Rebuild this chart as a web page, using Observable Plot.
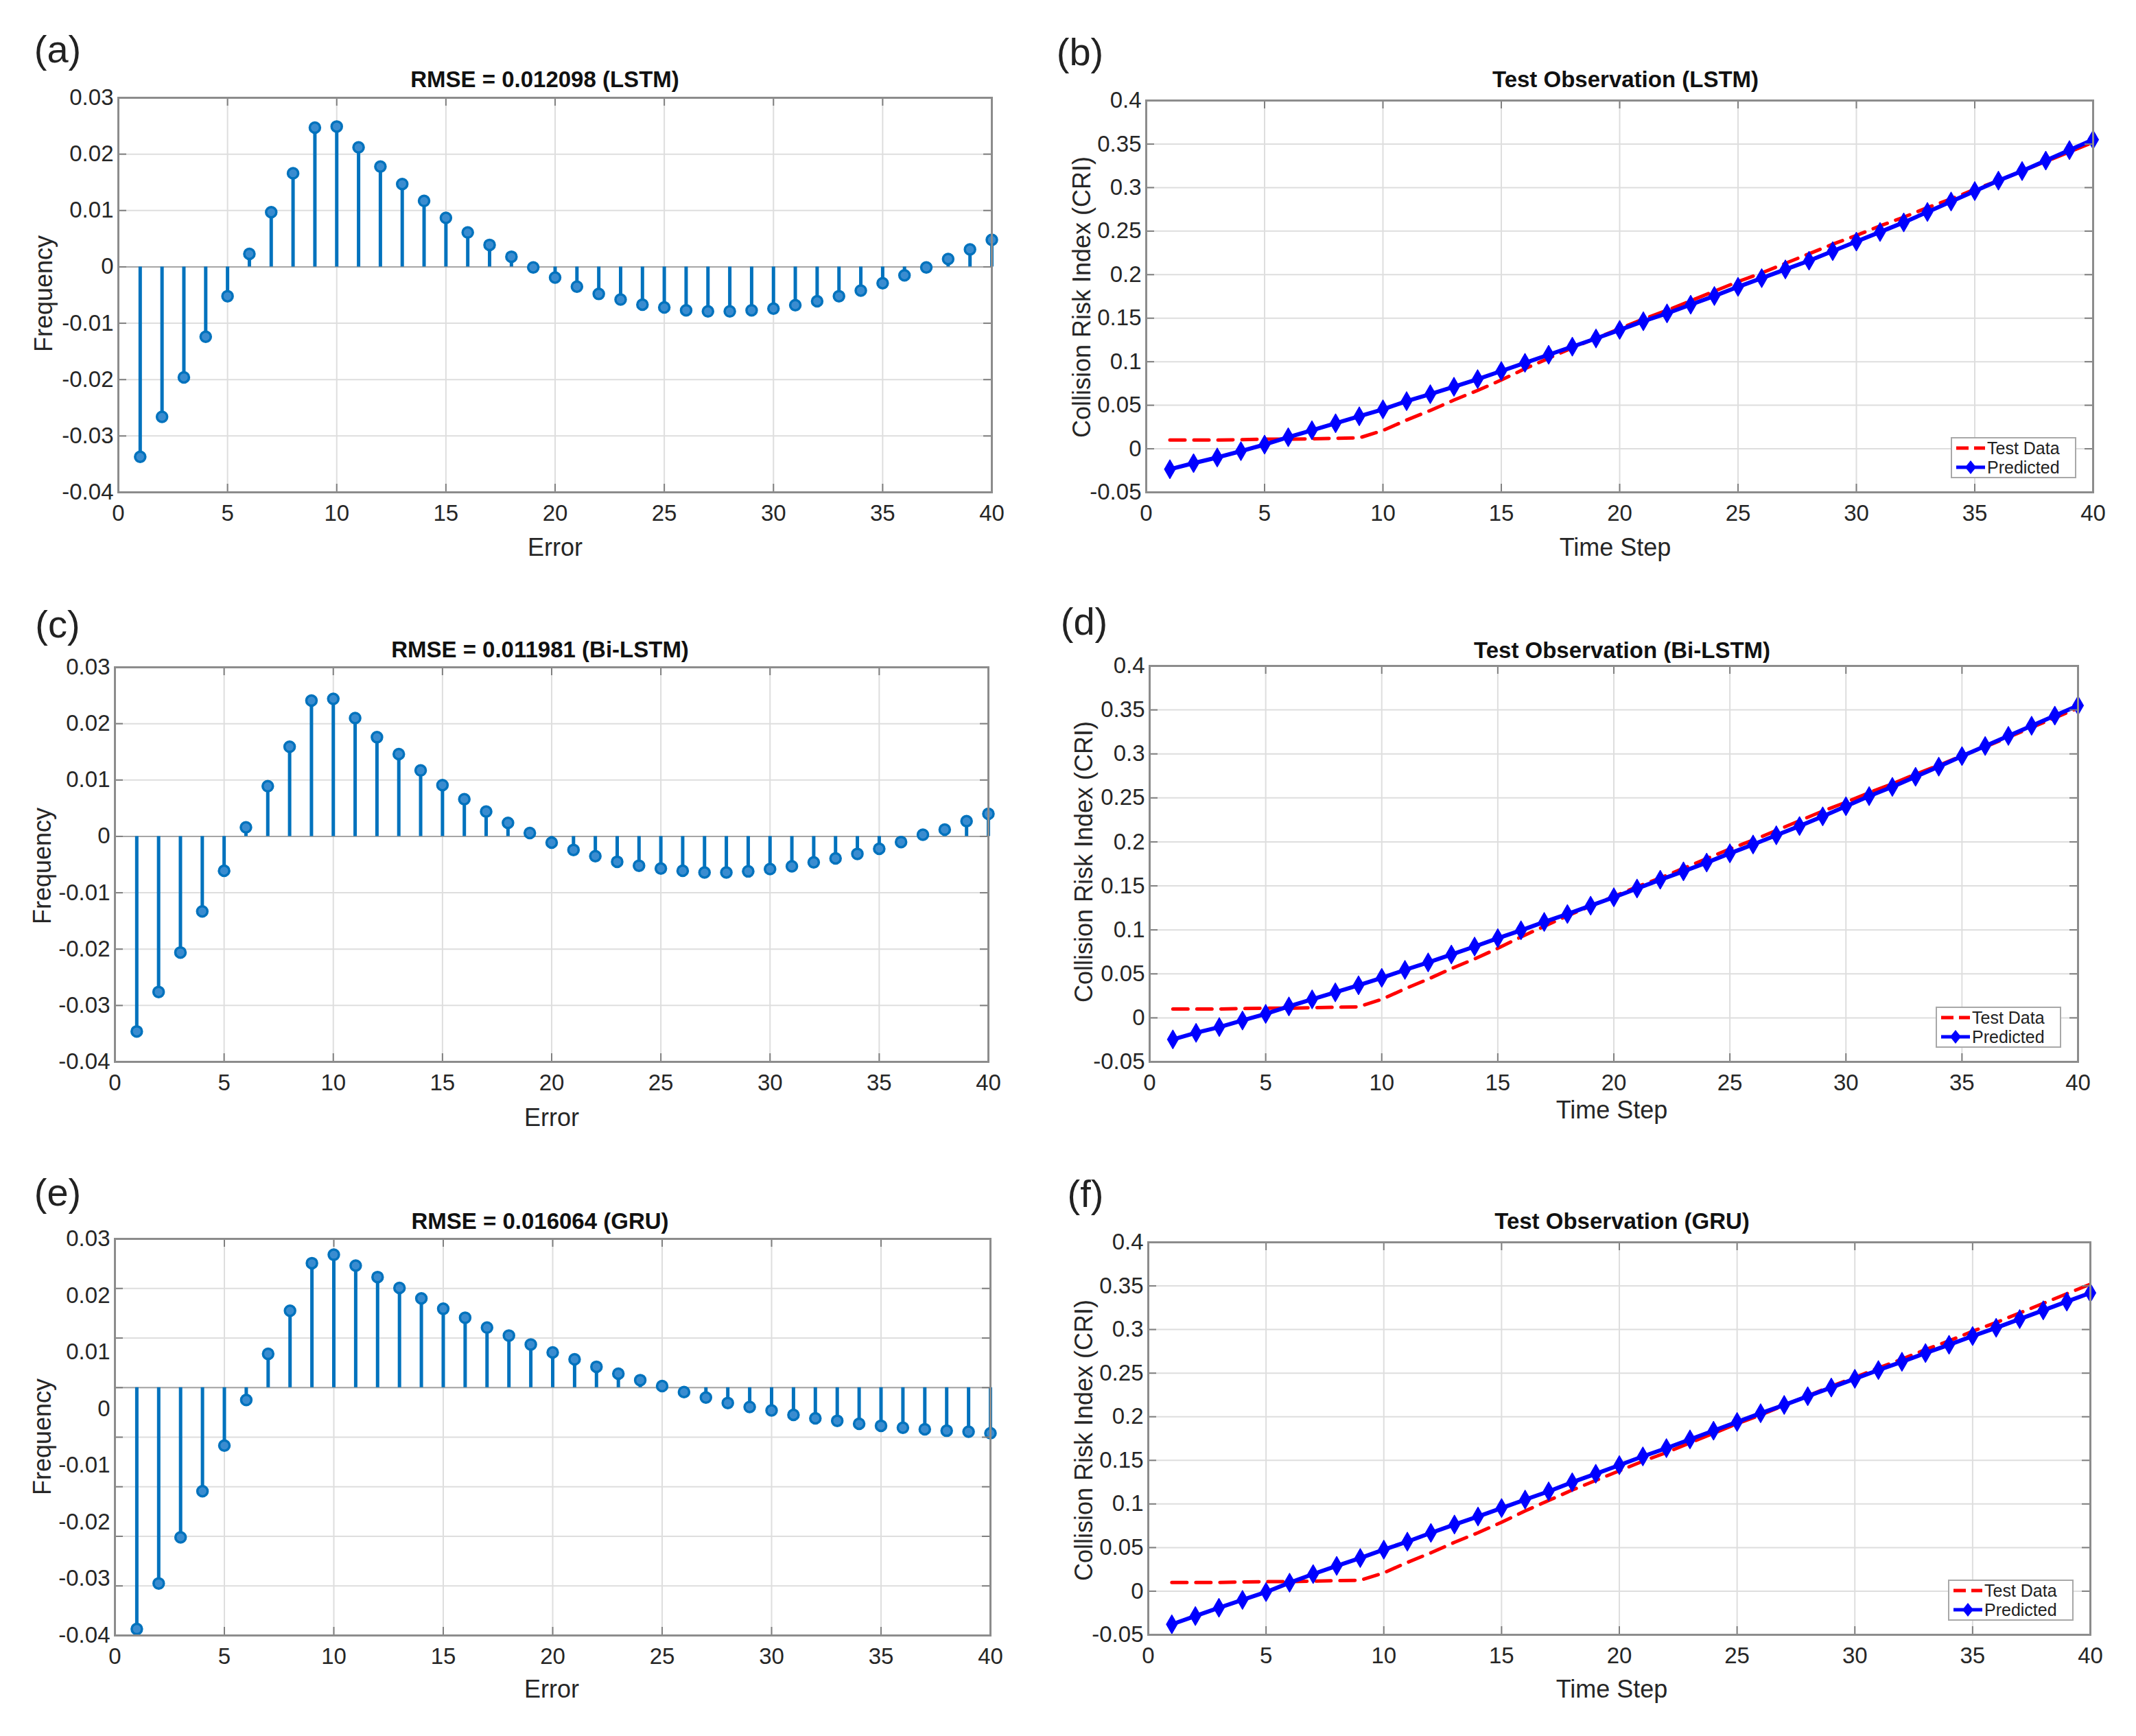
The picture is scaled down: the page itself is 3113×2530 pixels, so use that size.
<!DOCTYPE html>
<html>
<head>
<meta charset="utf-8">
<script src="https://cdn.jsdelivr.net/npm/d3@7"></script>
<script src="https://cdn.jsdelivr.net/npm/@observablehq/plot@0.6"></script>
<style>
  html, body { margin: 0; padding: 0; background: #fff; }
  #page { position: relative; width: 3113px; height: 2530px; background: #fff; overflow: hidden;
          font-family: "Liberation Sans", Arial, Helvetica, sans-serif; color: #262626; }
  .t { position: absolute; white-space: nowrap; transform: translate(-50%, -50%); line-height: 1; }
  .letter { font-size: 56px; color: #222; }
  .title { font-size: 33px; font-weight: bold; color: #111; }
  .xlab { font-size: 36px; }
  .ylab { font-size: 36px; transform: translate(-50%, -50%) rotate(-90deg); }
  .legend { position: absolute; width: 179px; height: 56px; background: #fff; border: 2px solid #a8a8a8;
            font-size: 25px; color: #222; }
  .legend .row { display: flex; align-items: center; height: 28px; }
  .legend svg { display: block; margin-left: 4px; margin-right: 1px; }
</style>
</head>
<body>
<div id="page"></div>
<script>
// ---------------- data ----------------
const steps = [1,2,3,4,5,6,7,8,9,10,11,12,13,14,15,16,17,18,19,20,21,22,23,24,25,26,27,28,29,30,31,32,33,34,35,36,37,38,39,40];

const lstmErr = [-0.0337,-0.0266,-0.0196,-0.0124,-0.0052,0.0023,0.0097,0.0166,0.0247,0.0249,
                 0.0212,0.0178,0.0147,0.0117,0.0087,0.0061,0.0039,0.0018,-0.0001,-0.0019,
                 -0.0035,-0.0048,-0.0058,-0.0067,-0.0072,-0.0077,-0.0079,-0.0079,-0.0077,-0.0074,
                 -0.0068,-0.0061,-0.0052,-0.0042,-0.0029,-0.0015,-0.0001,0.0014,0.0031,0.0048];

const biErr = [-0.0346,-0.0276,-0.0206,-0.0133,-0.0061,0.0016,0.0089,0.0159,0.0241,0.0244,
               0.0210,0.0176,0.0146,0.0117,0.0091,0.0066,0.0044,0.0024,0.0006,-0.0011,
               -0.0024,-0.0035,-0.0045,-0.0052,-0.0057,-0.0061,-0.0064,-0.0064,-0.0062,-0.0058,
               -0.0053,-0.0046,-0.0039,-0.0031,-0.0022,-0.0010,0.0003,0.0012,0.0027,0.0040];

const gruErr = [-0.0487,-0.0395,-0.0302,-0.0209,-0.0117,-0.0025,0.0068,0.0155,0.0251,0.0268,
                0.0246,0.0223,0.0201,0.0180,0.0159,0.0141,0.0121,0.0105,0.0087,0.0071,
                0.0057,0.0042,0.0028,0.0015,0.0003,-0.0009,-0.0020,-0.0031,-0.0039,-0.0046,
                -0.0055,-0.0062,-0.0067,-0.0073,-0.0077,-0.0081,-0.0084,-0.0087,-0.0089,-0.0092];

const testData = [0.010,0.010,0.010,0.0105,0.011,0.011,0.0115,0.012,0.0125,0.021,
                  0.033,0.044,0.056,0.067,0.079,0.092,0.104,0.116,0.127,0.138,
                  0.149,0.159,0.170,0.181,0.192,0.202,0.213,0.224,0.235,0.245,
                  0.256,0.266,0.277,0.287,0.298,0.308,0.319,0.330,0.341,0.352];

const predLstm = [-0.0235,-0.0165,-0.0100,-0.0027,0.0048,0.0133,0.0213,0.0293,0.0373,0.0453,
                  0.0547,0.0627,0.0712,0.0800,0.0893,0.0987,0.1080,0.1173,0.1267,0.1365,
                  0.1465,0.1555,0.1655,0.1755,0.1860,0.1960,0.2060,0.2160,0.2270,0.2380,
                  0.2490,0.2600,0.2720,0.2840,0.2960,0.3080,0.3190,0.3310,0.3430,0.3550];

const predBi = [-0.0245,-0.0170,-0.0105,-0.0030,0.0045,0.0130,0.0210,0.0290,0.0370,0.0455,
                0.0545,0.0630,0.0720,0.0810,0.0905,0.0995,0.1090,0.1180,0.1275,0.1370,
                0.1470,0.1570,0.1665,0.1765,0.1870,0.1970,0.2075,0.2180,0.2290,0.2405,
                0.2520,0.2625,0.2740,0.2855,0.2975,0.3090,0.3205,0.3320,0.3435,0.3550];

const predGru = [-0.0380,-0.0285,-0.0190,-0.0100,-0.0010,0.0097,0.0196,0.0290,0.0380,0.0476,
                 0.0568,0.0668,0.0764,0.0856,0.0953,0.1050,0.1144,0.1249,0.1346,0.1445,
                 0.1545,0.1640,0.1740,0.1840,0.1940,0.2040,0.2135,0.2235,0.2335,0.2435,
                 0.2535,0.2630,0.2730,0.2825,0.2925,0.3020,0.3120,0.3220,0.3320,0.3420];

const xTicks = [0,5,10,15,20,25,30,35,40];
const errTicks = [-0.04,-0.03,-0.02,-0.01,0,0.01,0.02,0.03];
const gruGrid = [-0.05,-0.04,-0.03,-0.02,-0.01,0,0.01,0.02,0.03];
const criTicks = [-0.05,0,0.05,0.1,0.15,0.2,0.25,0.3,0.35,0.4];

const errTitles = ["RMSE = 0.012098 (LSTM)", "RMSE = 0.011981 (Bi-LSTM)", "RMSE = 0.016064 (GRU)"];
const obsTitles = ["Test Observation (LSTM)", "Test Observation (Bi-LSTM)", "Test Observation (GRU)"];
const letters = ["(a)","(b)","(c)","(d)","(e)","(f)"];

// ---------------- helpers ----------------
const page = document.getElementById("page");
const stemBlue = "#0072BD";
const M = {l: 130, r: 24, t: 24, b: 70};
const fmt = d => String(d);

function addText(cls, txt, x, y) {
  const d = document.createElement("div");
  d.className = "t " + cls;
  d.textContent = txt;
  d.style.left = x + "px";
  d.style.top = y + "px";
  page.appendChild(d);
}

function place(svg, g) {
  svg.style.position = "absolute";
  svg.style.left = (g.L - M.l) + "px";
  svg.style.top = (g.T - M.t) + "px";
  svg.style.overflow = "visible";
  page.appendChild(svg);
}

function basePlot(g, yDomain, yGrid, yLabelTicks, dataMarks) {
  const w = g.R - g.L, h = g.B - g.T;
  return Plot.plot({
    width: w + M.l + M.r, height: h + M.t + M.b,
    marginLeft: M.l, marginRight: M.r, marginTop: M.t, marginBottom: M.b,
    x: {domain: [0, 40], axis: null},
    y: {domain: yDomain, axis: null},
    style: {fontFamily: '"Liberation Sans", Arial, sans-serif', fontSize: "33px", color: "#262626", background: "transparent", overflow: "visible"},
    marks: [
      Plot.gridX(xTicks, {stroke: "#dedede", strokeOpacity: 1, strokeWidth: 2}),
      Plot.gridY(yGrid, {stroke: "#dedede", strokeOpacity: 1, strokeWidth: 2}),
      ...dataMarks,
      Plot.tickX(xTicks, {x: d => d, insetTop: h - 12, stroke: "#808080", strokeWidth: 2}),
      Plot.tickX(xTicks, {x: d => d, insetBottom: h - 12, stroke: "#808080", strokeWidth: 2}),
      Plot.tickY(yGrid, {y: d => d, insetRight: w - 12, stroke: "#808080", strokeWidth: 2}),
      Plot.tickY(yGrid, {y: d => d, insetLeft: w - 12, stroke: "#808080", strokeWidth: 2}),
      Plot.frame({stroke: "#8c8c8c", strokeWidth: 3}),
      Plot.axisX(xTicks, {tickSize: 0, tickPadding: 18, tickFormat: fmt, label: null}),
      yLabelTicks ? Plot.axisY(yLabelTicks, {tickSize: 0, tickPadding: 7, tickFormat: fmt, label: null}) : null
    ]
  });
}

function stemMarks(vals) {
  const rows = steps.map((t, i) => ({t, v: vals[i]}));
  return [
    Plot.ruleY([0], {stroke: "#a6a6a6", strokeWidth: 2}),
    Plot.ruleX(rows, {x: "t", y1: 0, y2: "v", stroke: stemBlue, strokeWidth: 5}),
    Plot.dot(rows, {x: "t", y: "v", r: 7.5, fill: "#3a8cd0", stroke: stemBlue, strokeWidth: 3.5})
  ];
}

function lineMarks(pred) {
  const tRows = steps.map((t, i) => ({t, v: testData[i]}));
  const pRows = steps.map((t, i) => ({t, v: pred[i]}));
  return [
    Plot.line(tRows, {x: "t", y: "v", stroke: "#ff0000", strokeWidth: 5, strokeDasharray: "22,13"}),
    Plot.line(pRows, {x: "t", y: "v", stroke: "#0000ff", strokeWidth: 6}),
    Plot.dot(pRows, {x: "t", y: "v", symbol: "diamond", r: 8.5, fill: "#0000ff", stroke: "#0000ff", strokeWidth: 1})
  ];
}

function legend(g) {
  const d = document.createElement("div");
  d.className = "legend";
  d.style.left = (g.R - 24 - 183) + "px";
  d.style.top = (g.B - 20 - 60) + "px";
  d.innerHTML =
    '<div class="row"><svg width="46" height="28"><line x1="2" y1="14" x2="44" y2="14" stroke="#ff0000" stroke-width="5" stroke-dasharray="18,8"/></svg><span>Test Data</span></div>' +
    '<div class="row"><svg width="46" height="28"><line x1="2" y1="14" x2="44" y2="14" stroke="#0000ff" stroke-width="5"/><path d="M23,4 L31,14 L23,24 L15,14 Z" fill="#0000ff"/></svg><span>Predicted</span></div>';
  page.appendChild(d);
}

// ---------------- geometry of the six axes boxes ----------------
const G = {
  a: {L: 172, R: 1445, T: 142, B: 717},
  b: {L: 1670, R: 3050, T: 146, B: 717},
  c: {L: 167, R: 1440, T: 972, B: 1547},
  d: {L: 1675, R: 3028, T: 970, B: 1547},
  e: {L: 167, R: 1443, T: 1805, B: 2383},
  f: {L: 1673, R: 3046, T: 1810, B: 2382}
};

// ---------------- left column: stem plots ----------------
place(basePlot(G.a, [-0.04, 0.03], errTicks, errTicks, stemMarks(lstmErr)), G.a);
place(basePlot(G.c, [-0.04, 0.03], errTicks, errTicks, stemMarks(biErr)), G.c);
place(basePlot(G.e, [-0.05, 0.03], gruGrid, null, stemMarks(gruErr)), G.e);
// tick labels of panel (e) as printed in the figure (spread over the full box)
(function () {
  const g = G.e, w = g.R - g.L, h = g.B - g.T;
  place(Plot.plot({
    width: w + M.l + M.r, height: h + M.t + M.b,
    marginLeft: M.l, marginRight: M.r, marginTop: M.t, marginBottom: M.b,
    y: {domain: [-0.04, 0.03], axis: null},
    style: {fontFamily: '"Liberation Sans", Arial, sans-serif', fontSize: "33px", color: "#262626", background: "transparent", overflow: "visible"},
    marks: [Plot.axisY(errTicks, {tickSize: 0, tickPadding: 7, tickFormat: fmt, label: null})]
  }), g);
})();

// ---------------- right column: line plots ----------------
place(basePlot(G.b, [-0.05, 0.4], criTicks, criTicks, lineMarks(predLstm)), G.b);
place(basePlot(G.d, [-0.05, 0.4], criTicks, criTicks, lineMarks(predBi)), G.d);
place(basePlot(G.f, [-0.05, 0.4], criTicks, criTicks, lineMarks(predGru)), G.f);
legend(G.b); legend(G.d); legend(G.f);

// ---------------- texts ----------------
addText("letter", letters[0], 84, 72);
addText("letter", letters[1], 1574, 76);
addText("letter", letters[2], 84, 910);
addText("letter", letters[3], 1580, 906);
addText("letter", letters[4], 84, 1738);
addText("letter", letters[5], 1582, 1740);

addText("title", errTitles[0], 794, 115);
addText("title", errTitles[1], 787, 946);
addText("title", errTitles[2], 787, 1779);
addText("title", obsTitles[0], 2369, 115);
addText("title", obsTitles[1], 2364, 947);
addText("title", obsTitles[2], 2364, 1779);

addText("xlab", "Error", 809, 798);
addText("xlab", "Error", 804, 1629);
addText("xlab", "Error", 804, 2462);
addText("xlab", "Time Step", 2354, 798);
addText("xlab", "Time Step", 2349, 1618);
addText("xlab", "Time Step", 2349, 2462);

addText("ylab", "Frequency", 64, 428);
addText("ylab", "Frequency", 62, 1262);
addText("ylab", "Frequency", 62, 2094);
addText("ylab", "Collision Risk Index (CRI)", 1577, 433);
addText("ylab", "Collision Risk Index (CRI)", 1580, 1256);
addText("ylab", "Collision Risk Index (CRI)", 1580, 2099);
</script>
</body>
</html>
